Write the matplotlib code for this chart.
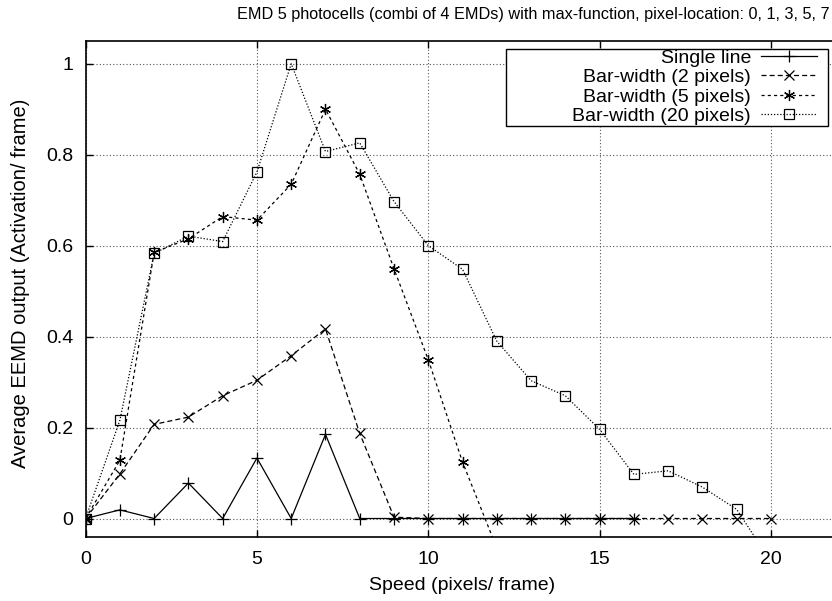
import matplotlib
matplotlib.use("Agg")
import matplotlib.pyplot as plt
from matplotlib.ticker import FuncFormatter
from matplotlib.patches import Rectangle

plt.rcParams['font.family'] = ['Liberation Sans', 'DejaVu Sans']

# data
speed_single = list(range(0, 17))
single_line = [0, 0.019, 0, 0.078, 0, 0.133, 0, 0.185, 0, 0, 0, 0, 0, 0, 0, 0, 0]

speed_bar2 = list(range(0, 21))
bar2 = [0, 0.098, 0.207, 0.223, 0.27, 0.304, 0.358, 0.417, 0.187, 0.003,
        0, 0, 0, 0, 0, 0, 0, 0, 0, 0, 0]

speed_bar5 = list(range(0, 13))
bar5 = [0, 0.128, 0.585, 0.615, 0.664, 0.656, 0.735, 0.9, 0.757, 0.549,
        0.349, 0.124, -0.065]

speed_bar20 = list(range(0, 21))
bar20 = [0, 0.216, 0.583, 0.621, 0.609, 0.762, 1.0, 0.807, 0.826, 0.697,
         0.6, 0.548, 0.39, 0.303, 0.27, 0.196, 0.097, 0.105, 0.069, 0.02, -0.095]

labels = ["Single line", "Bar-width (2 pixels)", "Bar-width (5 pixels)",
          "Bar-width (20 pixels)"]

W, H = 832, 601
x0, x1, y_top, y_bot = 85.6, 839.5, 41, 536.7   # plot area in pixels
aw, ah = x1 - x0, y_bot - y_top

def ax_x(px):
    return (px - x0) / aw

def ax_y(py):
    return (y_bot - py) / ah

fig = plt.figure(figsize=(W / 100, H / 100), dpi=100)
# axes run a bit past the right edge of the picture, as in the original
ax = fig.add_axes([x0 / W, 1 - y_bot / H, aw / W, ah / H])

lw = 0.9
ax.plot(speed_single, single_line, color="black", lw=lw, ls="-",
        marker="+", ms=8, mew=0.9, label=labels[0])
ax.plot(speed_bar2, bar2, color="black", lw=lw, ls=(0, (4, 2.5)),
        marker="x", ms=7, mew=0.9, label=labels[1])
ax.plot(speed_bar5, bar5, color="black", lw=lw, ls=(0, (2.5, 2.5)),
        marker=(6, 2, 0), ms=8, mew=0.9, label=labels[2])
ax.plot(speed_bar20, bar20, color="black", lw=lw, ls=(0, (1, 1.5)),
        marker="s", ms=7, mew=0.9, mfc="none", label=labels[3])

ax.set_xlim(0, 22)
ax.set_ylim(-0.04, 1.05)
ax.set_xticks([0, 5, 10, 15, 20])
ax.set_yticks([0, 0.2, 0.4, 0.6, 0.8, 1.0])
ax.yaxis.set_major_formatter(FuncFormatter(lambda v, p: "%g" % v))
ax.tick_params(direction="in", length=5, width=1, top=True, right=True,
               labelsize=14, colors="black")
ax.tick_params(axis="x", pad=10.5)
ax.tick_params(axis="y", pad=9)
ax.grid(True, ls=(0, (1, 2)), color="#555555", lw=0.8)
for s in ax.spines.values():
    s.set_linewidth(1.2)

ax.set_xlabel("Speed (pixels/ frame)", fontsize=14)
ax.set_ylabel("Average EEMD output (Activation/ frame)", fontsize=14.5)
ax.xaxis.set_label_coords(0.5, ax_y(577))
ax.yaxis.set_label_coords(ax_x(30), ax_y(283.5))
fig.text(830 / W, 1 - 14 / H, "EMD 5 photocells (combi of 4 EMDs) with max-function, "
         "pixel-location: 0, 1, 3, 5, 7", ha="right", va="center", fontsize=11.7)

# legend box is wider than its contents in the original
ax.add_patch(Rectangle((ax_x(505.7), ax_y(126)), ax_x(828) - ax_x(505.7), ax_y(49) - ax_y(126),
                       transform=ax.transAxes, facecolor="white", edgecolor="black",
                       lw=1.0, zorder=4))
leg = ax.legend(loc="upper right", bbox_to_anchor=(ax_x(817), ax_y(49)),
                markerfirst=False, fontsize=14, frameon=False,
                handlelength=2.9, borderpad=0, labelspacing=0.1, handletextpad=0.5,
                borderaxespad=0)
leg.set_zorder(5)

fig.savefig("out.png", dpi=100)
